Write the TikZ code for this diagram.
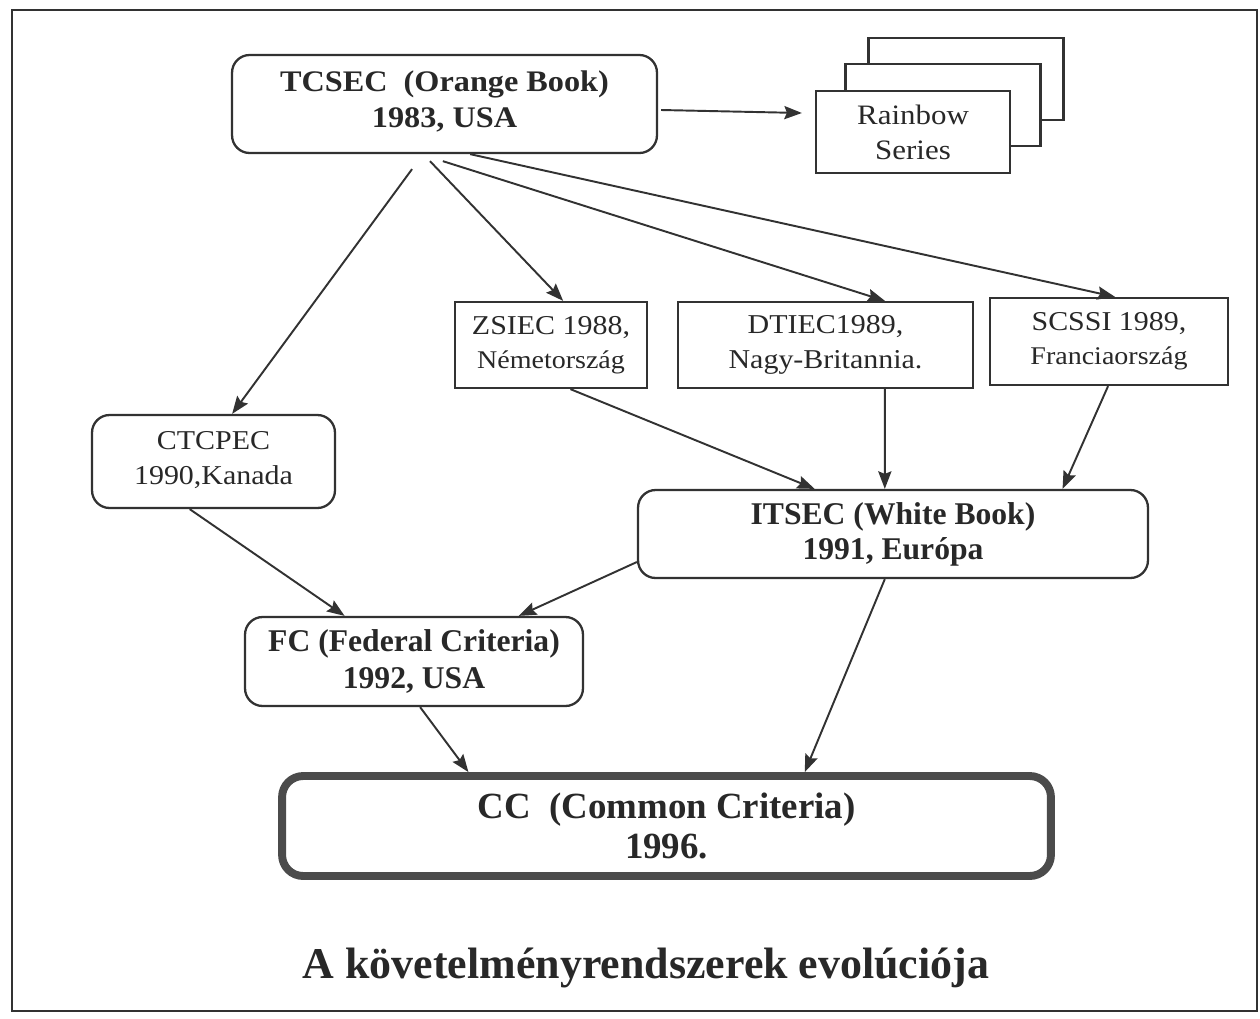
\documentclass[tikz,border=0pt]{standalone}
\usepackage{fontspec}
\setmainfont{Liberation Serif}
\newfontfamily\widefont[FakeStretch=1.1]{Liberation Serif}
\newfontfamily\tcfont[FakeStretch=1.08]{Liberation Serif}
\usetikzlibrary{arrows.meta,calc}
\definecolor{ink}{RGB}{50,50,50}
\definecolor{txt}{RGB}{40,40,40}
\definecolor{ccink}{RGB}{75,75,75}
\tikzset{
  box/.style={draw=ink, line width=1.3pt, fill=white, align=center, inner sep=0pt, text=txt},
  rbox/.style={box, rounded corners=10pt},
  arr/.style={draw=ink, line width=1.1pt, -{Stealth[length=10pt,width=7.5pt,inset=1.5pt]}},
}
\begin{document}
\begin{tikzpicture}[x=0.02cm,y=-0.02cm]
\useasboundingbox (0,0) rectangle (1260,1018);
\draw[ink, line width=1.2pt] (12,10) rectangle (1257,1011);

% TCSEC
\node[rbox, minimum width=8.5cm, minimum height=1.96cm, font=\tcfont\bfseries\fontsize{17}{20.5}\selectfont] (tcsec) at (444.5,104) {TCSEC\ \ (Orange Book)\\1983, USA\rule[-5pt]{0pt}{1pt}};

% Rainbow stack
\node[box, minimum width=3.9cm, minimum height=1.64cm] (rb3) at (966,79) {};
\node[box, minimum width=3.9cm, minimum height=1.64cm] (rb2) at (943,105) {};
\node[box, minimum width=3.88cm, minimum height=1.64cm, font=\widefont\fontsize{16}{20}\selectfont] (rb1) at (913,132) {Rainbow\\Series};

% second row
\node[box, minimum width=3.84cm, minimum height=1.72cm, font=\widefont\fontsize{15.5}{19.5}\selectfont] (zsiec) at (551,345) {ZSIEC 1988,\\{\fontsize{14.5}{19.5}\selectfont Németország}};
\node[box, minimum width=5.9cm, minimum height=1.72cm, font=\widefont\fontsize{15.5}{19.5}\selectfont] (dtiec) at (825.5,345) {DTIEC1989,\\Nagy-Britannia.};
\node[box, minimum width=4.76cm, minimum height=1.74cm, font=\widefont\fontsize{15.5}{19.5}\selectfont] (scssi) at (1109,341.5) {SCSSI 1989,\\{\fontsize{14.5}{19.5}\selectfont Franciaország}};

% CTCPEC
\node[rbox, minimum width=4.86cm, minimum height=1.86cm, font=\widefont\fontsize{15.5}{20}\selectfont] (ctc) at (213.5,461.5) {CTCPEC\\1990,Kanada\rule[-4pt]{0pt}{1pt}};

% ITSEC
\node[rbox, minimum width=10.2cm, minimum height=1.76cm, font=\bfseries\fontsize{18}{20}\selectfont] (itsec) at (893,534) {ITSEC (White Book)\\1991, Európa};

% FC
\node[rbox, minimum width=6.76cm, minimum height=1.78cm, font=\bfseries\fontsize{18}{21}\selectfont] (fc) at (414,661.5) {FC (Federal Criteria)\\1992, USA};

% CC
\node[box, rounded corners=12pt, line width=4.5pt, draw=ccink, minimum width=15.38cm, minimum height=2.0cm, font=\bfseries\fontsize{21}{23}\selectfont] (cc) at (666.5,826) {CC\ \ (Common Criteria)\\1996.};

% title
\node[font=\bfseries\fontsize{25}{30}\selectfont, text=txt] (title) at (646,968) {A követelményrendszerek evolúciója};

% connectors
\draw[arr] ($(tcsec.east)+(3,6)$) -- ($(rb1.west)+(-13,-19)$);
\draw[arr] ($(tcsec.south west)!0.424!(tcsec.south east)+(0,15)$) -- ($(ctc.north west)!0.576!(ctc.north east)$);
\draw[arr] ($(tcsec.south west)!0.466!(tcsec.south east)+(0,7)$) -- ($(zsiec.north west)!0.5625!(zsiec.north east)$);
\draw[arr] ($(tcsec.south west)!0.496!(tcsec.south east)+(0,7)$) -- ($(dtiec.north west)!0.70!(dtiec.north east)$);
\draw[arr] ($(tcsec.south west)!0.56!(tcsec.south east)$) -- ($(scssi.north west)!0.525!(scssi.north east)$);
\draw[arr] ($(zsiec.south west)!0.6!(zsiec.south east)$) -- ($(itsec.north west)!0.347!(itsec.north east)$);
\draw[arr] ($(dtiec.south west)!0.70!(dtiec.south east)$) -- ($(itsec.north west)!0.484!(itsec.north east)$);
\draw[arr] ($(scssi.south west)!0.496!(scssi.south east)$) -- ($(itsec.north west)!0.831!(itsec.north east)$);
\draw[arr] ($(ctc.south west)!0.403!(ctc.south east)$) -- ($(fc.north west)!0.296!(fc.north east)$);
\draw[arr] ($(itsec.west)+(0,28)$) -- ($(fc.north west)!0.808!(fc.north east)$);
\draw[arr] ($(itsec.south west)!0.484!(itsec.south east)$) -- ($(cc.north west)!0.678!(cc.north east)$);
\draw[arr] ($(fc.south west)!0.518!(fc.south east)$) -- ($(cc.north west)!0.245!(cc.north east)$);
\end{tikzpicture}
\end{document}
